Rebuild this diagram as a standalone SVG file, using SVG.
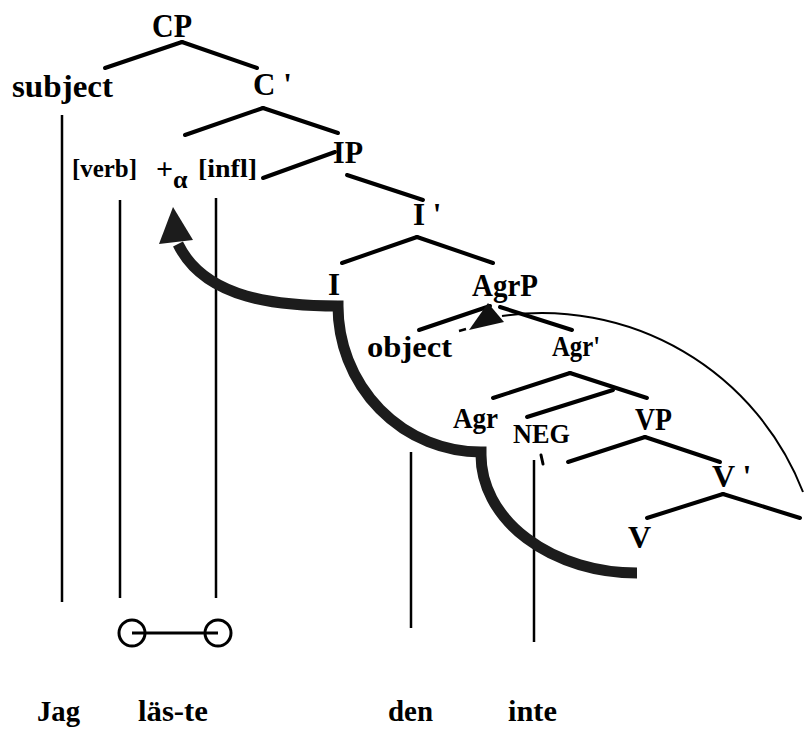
<svg xmlns="http://www.w3.org/2000/svg" width="804" height="730" viewBox="0 0 804 730">
<style>
  text { font-family: "Liberation Serif", "Times New Roman", serif; font-weight: bold; fill: #000; }
  .br { stroke: #000; stroke-width: 4; stroke-linecap: round; fill: none; }
  .vl { stroke: #000; stroke-width: 2.5; fill: none; }
  .thin { stroke: #000; stroke-width: 2; fill: none; }
  .thick { stroke: #1c1c1c; stroke-width: 11; fill: none; stroke-linejoin: miter; stroke-linecap: butt; }
</style>
<rect width="804" height="730" fill="#fff"/>

<g id="connectors">
  <!-- tree branches -->
  <line class="br" x1="105" y1="68" x2="182" y2="42"/>
  <line class="br" x1="182" y1="42" x2="257" y2="68"/>
  <line class="br" x1="185" y1="135" x2="263" y2="108"/>
  <line class="br" x1="263" y1="108" x2="338" y2="133"/>
  <line class="br" x1="263" y1="178" x2="335" y2="152"/>
  <line class="br" x1="347" y1="175" x2="423" y2="200"/>
  <line class="br" x1="342" y1="263" x2="417" y2="237"/>
  <line class="br" x1="417" y1="237" x2="493" y2="263"/>
  <line class="br" x1="419" y1="330" x2="490" y2="306"/>
  <line class="br" x1="500" y1="307" x2="572" y2="330"/>
  <line class="br" x1="493" y1="398" x2="570" y2="373"/>
  <line class="br" x1="570" y1="373" x2="647" y2="398"/>
  <line class="br" x1="527" y1="417" x2="613" y2="390"/>
  <line class="br" x1="568" y1="462" x2="645" y2="437"/>
  <line class="br" x1="645" y1="437" x2="720" y2="462"/>
  <line class="br" x1="647" y1="518" x2="723" y2="494"/>
  <line class="br" x1="723" y1="494" x2="800" y2="518"/>
  <!-- vertical lines to words -->
  <line class="vl" x1="62" y1="115" x2="62" y2="602"/>
  <line class="vl" x1="120" y1="200" x2="120" y2="598"/>
  <line class="vl" x1="216" y1="198" x2="216" y2="598"/>
  <line class="vl" x1="411" y1="452" x2="411" y2="628"/>
  <line class="vl" x1="534" y1="460" x2="534" y2="642"/>
  <line stroke="#000" stroke-width="3" stroke-linecap="round" x1="541" y1="455" x2="543" y2="464"/>
  <!-- linked verb + infl -->
  <line stroke="#000" stroke-width="3" x1="132" y1="633" x2="218" y2="633"/>
  <circle cx="132" cy="633" r="13" fill="none" stroke="#000" stroke-width="3"/>
  <circle cx="218" cy="633" r="13" fill="none" stroke="#000" stroke-width="3"/>
  <!-- thin arc to AgrP -->
  <path class="thin" d="M 502,316 A 280,280 0 0 1 803,492"/>
  <polygon points="488,303 469,330 504,322" fill="#111"/>
  <line stroke="#000" stroke-width="2.5" x1="459" y1="331" x2="466" y2="329"/>
  <!-- thick movement path -->
  <path class="thick" d="M 637,573 A 156,118 0 0 1 481,455 L 481,452 A 143,146 0 0 1 338,306 C 280,306 205,300 178,244"/>
  <polygon points="173,207 159,244 193,240" fill="#1c1c1c"/>
</g>

<g id="CP"><text x="152" y="37" font-size="34" textLength="40" lengthAdjust="spacingAndGlyphs">CP</text></g>
<g id="subject"><text x="12" y="97" font-size="31" textLength="101" lengthAdjust="spacingAndGlyphs">subject</text></g>
<g id="Cbar"><text x="253" y="95" font-size="31">C '</text></g>
<g id="verb"><text x="72" y="177" font-size="25" textLength="65" lengthAdjust="spacingAndGlyphs">[verb]</text></g>
<g id="plus-alpha"><text x="156" y="179" font-size="30">+</text><text x="173" y="188" font-size="26" font-weight="normal">α</text></g>
<g id="infl"><text x="198" y="177" font-size="25" textLength="59" lengthAdjust="spacingAndGlyphs">[infl]</text></g>
<g id="IP"><text x="333" y="163" font-size="31" textLength="30" lengthAdjust="spacingAndGlyphs">IP</text></g>
<g id="Ibar"><text x="413" y="225" font-size="31">I '</text></g>
<g id="I"><text x="328" y="295" font-size="31">I</text></g>
<g id="AgrP"><text x="472" y="296" font-size="31" textLength="66" lengthAdjust="spacingAndGlyphs">AgrP</text></g>
<g id="object"><text x="367" y="357" font-size="29" textLength="85" lengthAdjust="spacingAndGlyphs">object</text></g>
<g id="Agrbar"><text x="552" y="356" font-size="30" textLength="48" lengthAdjust="spacingAndGlyphs">Agr'</text></g>
<g id="Agr"><text x="453" y="428" font-size="30" textLength="45" lengthAdjust="spacingAndGlyphs">Agr</text></g>
<g id="NEG"><text x="513" y="443" font-size="27" textLength="57" lengthAdjust="spacingAndGlyphs">NEG</text></g>
<g id="VP"><text x="635" y="430" font-size="32" textLength="37" lengthAdjust="spacingAndGlyphs">VP</text></g>
<g id="Vbar"><text x="712" y="487" font-size="32">V '</text></g>
<g id="V"><text x="628" y="548" font-size="32">V</text></g>
<g id="Jag"><text x="37" y="721" font-size="30" textLength="43" lengthAdjust="spacingAndGlyphs">Jag</text></g>
<g id="laste"><text x="138" y="721" font-size="30" textLength="70" lengthAdjust="spacingAndGlyphs">läs-te</text></g>
<g id="den"><text x="388" y="721" font-size="30" textLength="45" lengthAdjust="spacingAndGlyphs">den</text></g>
<g id="inte"><text x="508" y="721" font-size="30" textLength="49" lengthAdjust="spacingAndGlyphs">inte</text></g>
</svg>
